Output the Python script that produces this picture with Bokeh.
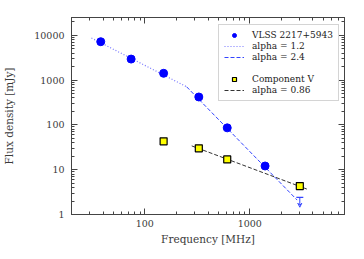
from bokeh.plotting import figure
from bokeh.models import Range1d, LogAxis, FixedTicker, Legend, LegendItem, ColumnDataSource, Arrow, VeeHead
from bokeh.embed import file_html
from bokeh.resources import INLINE

# Data
vlss_freq = [38, 74, 151, 327, 610, 1400]
vlss_flux = [7200, 2950, 1420, 420, 86, 12.1]
ul_freq = [3000]
ul_flux = [2.4]
compv_freq = [151, 327, 610, 3000]
compv_flux = [43, 30, 17, 4.3]
fit1_freq = [31, 250]
fit1_flux = [8700, 711]
fit2_freq = [250, 2830]
fit2_flux = [711, 2.1]
fitv_freq = [280, 3500]
fitv_flux = [34, 3.7]

x_major = [100, 1000]
y_major = [1, 10, 100, 1000, 10000]
y_labels = {1: "1", 10: "10", 100: "100", 1000: "1000", 10000: "10000"}
x_labels = {100: "100", 1000: "1000"}

FONT = "DejaVu Serif"
TXT = "#3a3a3a"

p = figure(width=356, height=251, x_axis_type="log", y_axis_type="log",
           x_range=Range1d(20, 8000), y_range=Range1d(1, 25000),
           output_backend="svg", toolbar_location=None,
           min_border_left=70, min_border_right=12, min_border_top=17, min_border_bottom=37)
p.xgrid.visible = False
p.ygrid.visible = False
p.outline_line_color = "#444444"
p.background_fill_color = "white"

x_minor = [m * 10 ** e for e in range(1, 4) for m in range(2, 10) if 20 <= m * 10 ** e <= 8000]
y_minor = [m * 10 ** e for e in range(0, 5) for m in range(2, 10) if m * 10 ** e <= 25000]
xt = FixedTicker(ticks=x_major, minor_ticks=x_minor)
yt = FixedTicker(ticks=y_major, minor_ticks=y_minor)

def style(ax, labels=None, show=True):
    ax.major_tick_in = 6
    ax.major_tick_out = 0
    ax.minor_tick_in = 3
    ax.minor_tick_out = 0
    ax.axis_line_color = "#444444"
    ax.major_tick_line_color = "#444444"
    ax.minor_tick_line_color = "#444444"
    ax.major_label_text_font = FONT
    ax.major_label_text_color = TXT
    ax.axis_label_text_font = FONT
    ax.axis_label_text_color = TXT
    ax.axis_label_text_font_style = "normal"
    if labels:
        ax.major_label_overrides = labels
    if not show:
        ax.major_label_text_font_size = "1px"
        ax.major_label_text_alpha = 0
        ax.major_label_standoff = 0

p.xaxis.ticker = xt
p.yaxis.ticker = yt
style(p.xaxis[0], x_labels)
style(p.yaxis[0], y_labels)
p.xaxis.major_label_text_font_size = "9.5px"
p.yaxis.major_label_text_font_size = "9.5px"
p.xaxis.axis_label = "Frequency [MHz]"
p.yaxis.axis_label = "Flux density [mJy]"
p.xaxis.axis_label_text_font_size = "10.5px"
p.yaxis.axis_label_text_font_size = "10.5px"
p.xaxis.major_label_standoff = 5
p.yaxis.major_label_standoff = 7
p.xaxis.axis_label_standoff = 3
p.yaxis.axis_label_standoff = 16

ra = LogAxis(ticker=FixedTicker(ticks=y_major, minor_ticks=y_minor))
style(ra, show=False)
p.add_layout(ra, "right")
ta = LogAxis(ticker=FixedTicker(ticks=x_major, minor_ticks=x_minor))
style(ta, show=False)
p.add_layout(ta, "above")

r_fit1 = p.line(fit1_freq, fit1_flux, line_color="#7777ff", line_dash="1 2", line_width=1.2)
r_fit2 = p.line(fit2_freq, fit2_flux, line_color="#3344ff", line_dash="4 2", line_width=1)
r_fitv = p.line(fitv_freq, fitv_flux, line_color="#333333", line_dash="4 2", line_width=1)

r_vlss = p.scatter(vlss_freq, vlss_flux, marker="circle", size=8, fill_color="#0000ff", line_color="#0000ff")
r_cv = p.scatter(compv_freq, compv_flux, marker="square", size=7, fill_color="#ffff00", line_color="black", line_width=1.2)

# upper limit
ul_src = ColumnDataSource(dict(x=ul_freq, y=ul_flux, y2=[v / 1.65 for v in ul_flux]))
p.scatter("x", "y", source=ul_src, marker="dash", size=7, line_color="#3344ff", line_width=1.2)
p.add_layout(Arrow(end=VeeHead(size=4, line_color="#3344ff", line_width=1, fill_color=None),
                   x_start="x", y_start="y", x_end="x", y_end="y2", source=ul_src,
                   line_color="#3344ff", line_width=1))

r_blank = p.scatter(vlss_freq[:1], vlss_flux[:1], marker="circle", fill_alpha=0, line_alpha=0)

legend = Legend(items=[
    LegendItem(label="VLSS 2217+5943", renderers=[r_vlss]),
    LegendItem(label="alpha = 1.2", renderers=[r_fit1]),
    LegendItem(label="alpha = 2.4", renderers=[r_fit2]),
    LegendItem(label=" ", renderers=[r_blank]),
    LegendItem(label="Component V", renderers=[r_cv]),
    LegendItem(label="alpha = 0.86", renderers=[r_fitv]),
], location=(147, 113))
legend.label_text_font = FONT
legend.label_text_font_size = "9px"
legend.label_text_line_height = 1.0
legend.label_text_color = "#222222"
legend.label_height = 10
legend.glyph_height = 10
legend.glyph_width = 20
legend.spacing = 1
legend.padding = 5
legend.margin = 0
legend.label_standoff = 8
legend.border_line_color = "#aaaaaa"
legend.background_fill_alpha = 1
p.add_layout(legend, "center")

open("out.html", "w").write(file_html(p, INLINE))
